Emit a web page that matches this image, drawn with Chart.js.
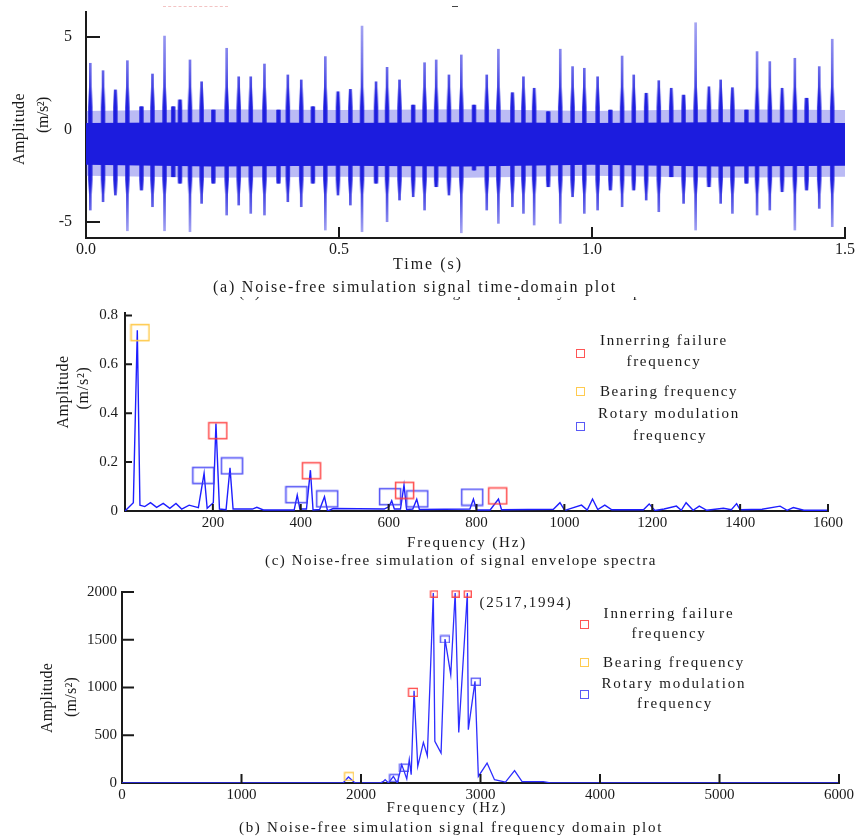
<!DOCTYPE html>
<html><head><meta charset="utf-8">
<script src="https://cdn.jsdelivr.net/npm/chart.js@4.4.1/dist/chart.umd.min.js"></script>
<style>
html,body{margin:0;padding:0;background:#fff;}
body{width:856px;height:836px;position:relative;overflow:hidden;font-family:'Liberation Serif','Times New Roman',serif;color:#1a1a1a;}
canvas{position:absolute;left:0;}
.t{position:absolute;white-space:nowrap;line-height:1;}
.sq{position:absolute;width:9px;height:9px;border:1.5px solid;box-sizing:border-box;}
</style></head><body>
<canvas id="cA" width="856" height="262" style="top:0px"></canvas>
<canvas id="cB" width="856" height="235" style="top:300px"></canvas>
<canvas id="cC" width="856" height="230" style="top:575px"></canvas>
<div style="position:absolute;left:163px;top:6px;width:65px;border-top:1px dashed #f3c4c4"></div>
<div style="position:absolute;left:452px;top:6px;width:6px;height:1px;background:#444"></div>
<script>
// ================= DATA =================
// (a) time-domain signal
const timeTicks = [0, 0.5, 1.0, 1.5];
const timeAmpTicks = [-5, 0, 5];
const impulseTime = [0.0085,0.0337,0.0581,0.0818,0.1096,0.1314,0.1552,0.1724,0.1857,0.2055,0.2285,0.2517,0.2780,0.3018,0.3256,0.3527,0.3804,0.3989,0.4254,0.4484,0.4730,0.4980,0.5225,0.5455,0.5732,0.5950,0.6196,0.6466,0.6691,0.6921,0.7173,0.7417,0.7668,0.7920,0.8150,0.8427,0.8645,0.8857,0.9135,0.9373,0.9616,0.9848,1.0111,1.0363,1.0595,1.0825,1.1071,1.1320,1.1566,1.1810,1.2048,1.2311,1.2543,1.2775,1.3052,1.3262,1.3514,1.3757,1.4009,1.4241,1.4491,1.4748];
const impulseMax = [3.58,3.18,2.14,3.72,1.23,3.0,5.05,1.23,1.6,3.76,2.58,1.05,4.39,2.85,2.85,3.54,1.05,2.95,2.68,1.23,3.94,2.04,2.17,5.59,2.58,3.36,2.68,1.32,3.61,3.76,2.95,4.03,1.32,2.95,4.34,1.99,2.85,2.23,0.96,4.34,3.4,3.31,2.85,1.05,3.97,2.95,1.96,2.64,2.23,1.86,5.77,2.31,2.68,2.26,1.05,4.21,3.67,2.23,3.85,1.69,3.4,4.88];
const impulseMin = [-4.35,-3.9,-3.54,-5.47,-3.27,-4.17,-5.47,-2.55,-2.9,-5.52,-3.99,-2.9,-4.62,-4.08,-4.53,-4.62,-2.9,-3.9,-4.17,-2.9,-5.43,-3.54,-4.08,-5.52,-2.9,-4.98,-3.81,-3.63,-4.35,-3.09,-3.54,-5.58,-2.19,-4.35,-5.07,-4.17,-4.53,-5.16,-3.09,-5.07,-3.63,-4.53,-4.35,-3.27,-4.17,-3.27,-3.81,-4.44,-2.55,-3.99,-5.43,-3.09,-3.99,-4.53,-2.9,-4.62,-4.35,-3.36,-5.43,-3.27,-4.26,-5.25];
const bandTime     = [0, 0.25, 0.5, 0.75, 1.0, 1.25, 1.5];
const bandCoreHigh = [0.35, 0.4, 0.35, 0.4, 0.35, 0.4, 0.35];
const bandCoreLow  = [-1.9, -2.0, -1.95, -2.0, -1.9, -2.0, -1.95];
const bandEdgeHigh = [1.0, 1.1, 1.05, 1.1, 1.0, 1.1, 1.05];
const bandEdgeLow  = [-2.5, -2.6, -2.55, -2.6, -2.5, -2.6, -2.55];

// (c) envelope spectrum
const envFreqTicks = [200, 400, 600, 800, 1000, 1200, 1400, 1600];
const envAmpTicks = [0, 0.2, 0.4, 0.6, 0.8];
const envFreq = [0,19,28,34,45,58,72,87,102,116,129,146,167,180,187,201,207,215,230,239,246,290,300,315,385,392,398,413,422,428,443,454,461,474,590,601,607,613,627,635,641,655,664,670,785,793,800,831,850,857,975,990,1001,1010,1039,1052,1064,1076,1092,1108,1180,1193,1206,1227,1255,1266,1277,1293,1307,1324,1362,1380,1392,1400,1450,1491,1507,1521,1545,1600];
const envAmp = [0,0.034,0.739,0.024,0.018,0.034,0.015,0.031,0.011,0.031,0.008,0.024,0.014,0.154,0.011,0.034,0.358,0.008,0.005,0.177,0.008,0.008,0.015,0.004,0.004,0.065,0.008,0.008,0.167,0.004,0.006,0.058,0.0,0.01,0.008,0.018,0.042,0.008,0.008,0.106,0.006,0.008,0.048,0.006,0.008,0.049,0.004,0.004,0.049,0.005,0.007,0.034,0.002,0.008,0.024,0.004,0.049,0.006,0.024,0.005,0.005,0.029,0.002,0.008,0.02,0.003,0.034,0.003,0.02,0.003,0.011,0.005,0.03,0.005,0.007,0.02,0.003,0.014,0.003,0.003];
const envInnerFreq = [211, 424, 636, 848];
const envInnerAmp = [0.329, 0.165, 0.085, 0.062];
const envBearingFreq = [34];
const envBearingAmp = [0.730];
const envRotaryFreq = [178, 243, 390, 460, 603, 665, 790];
const envRotaryAmp = [0.146, 0.185, 0.067, 0.050, 0.059, 0.050, 0.057];

// (b) frequency-domain spectrum
const specFreqTicks = [0, 1000, 2000, 3000, 4000, 5000, 6000];
const specAmpTicks = [0, 500, 1000, 1500, 2000];
const specFreq = [0,1850,1895,1951,2160,2188,2202,2230,2271,2304,2341,2361,2383,2404,2420,2444,2475,2522,2555,2605,2618,2670,2703,2751,2788,2818,2890,2898,2954,2982,3055,3117,3209,3285,3348,3525,3585,6000];
const specAmp = [0,0,63,0,0,17,35,0,70,0,191,122,42,244,87,965,174,425,286,1990,436,314,1508,1134,1990,530,1990,558,1064,70,209,35,10,130,14,15,0,0];
const specInnerFreq = [2433, 2609, 2788, 2890];
const specInnerAmp = [953, 1984, 1984, 1984];
const specBearingFreq = [1898];
const specBearingAmp = [71];
const specRotaryFreq = [2275, 2359, 2700, 2957];
const specRotaryAmp = [55, 165, 1508, 1065];

const legendLabels = [['Innerring failure', 'frequency'], ['Bearing frequency'], ['Rotary modulation', 'frequency']];

// ================= HELPERS =================
const FAMILY = "'Liberation Serif', 'Times New Roman', serif";
const INK = '#1a1a1a';
const RED = 'rgba(255,55,55,0.85)', YEL = 'rgba(255,200,70,0.95)', BLU = 'rgba(60,60,245,0.85)';
Chart.defaults.font.family = FAMILY;

const pts = (xs, ys) => xs.map((x, i) => ({x, y: ys[i]}));

function boxImg(w, h, color, lw) {
  const c = document.createElement('canvas');
  c.width = w + lw * 2; c.height = h + lw * 2;
  const g = c.getContext('2d');
  g.strokeStyle = color; g.lineWidth = lw;
  g.strokeRect(lw, lw, w, h);
  return c;
}

function axisX(min, max, ticks, fmt, h, size, pad) {
  return {type: 'linear', position: 'bottom', min, max, offset: false,
    grid: {display: false, drawTicks: false},
    border: {display: true, color: INK, width: 2},
    afterBuildTicks: s => { s.ticks = ticks.map(v => ({value: v})); },
    afterFit: s => { s.height = h; s.paddingLeft = 0; s.paddingRight = 0; },
    ticks: {autoSkip: false, maxRotation: 0, minRotation: 0, padding: pad, color: INK, font: {family: FAMILY, size}, callback: fmt}};
}
function axisY(min, max, ticks, fmt, w, size, pad) {
  return {type: 'linear', position: 'left', min, max,
    grid: {display: false, drawTicks: false},
    border: {display: true, color: INK, width: 2},
    afterBuildTicks: s => { s.ticks = ticks.map(v => ({value: v})); },
    afterFit: s => { s.width = w; s.paddingTop = 0; s.paddingBottom = 0; },
    ticks: {autoSkip: false, padding: pad, color: INK, font: {family: FAMILY, size}, callback: fmt}};
}

const innerTicks = {
  id: 'innerTicks',
  afterDraw(chart, args, o) {
    const ctx = chart.ctx, xs = chart.scales.x, ys = chart.scales.y;
    ctx.save();
    ctx.strokeStyle = INK; ctx.lineWidth = o.width || 2;
    ctx.beginPath();
    (o.x || []).forEach(v => { const p = xs.getPixelForValue(v); ctx.moveTo(p, ys.bottom); ctx.lineTo(p, ys.bottom - o.xLen); });
    (o.y || []).forEach(v => { const p = ys.getPixelForValue(v); ctx.moveTo(xs.left, p); ctx.lineTo(xs.left + o.yLen, p); });
    ctx.stroke();
    ctx.restore();
  }
};

function vGrad(chart, stops, fallback) {
  const y = chart.scales && chart.scales.y;
  if (!y || !chart.chartArea) return fallback;
  const top = y.getPixelForValue(y.max), bot = y.getPixelForValue(y.min);
  const g = chart.ctx.createLinearGradient(0, top, 0, bot);
  stops.forEach(([v, c]) => {
    const f = Math.min(1, Math.max(0, (y.getPixelForValue(v) - top) / (bot - top)));
    g.addColorStop(f, c);
  });
  return g;
}

const common = {responsive: false, animation: false, events: [],
  plugins: {legend: {display: false}, tooltip: {enabled: false}}};

// ================= (a) =================
const spikeData = impulseTime.map((t, i) => ({x: t, y: [impulseMin[i], impulseMax[i]]}));
const spikeStops = [[6.35,'rgba(85,85,230,0.45)'],[3.4,'rgba(50,50,225,0.7)'],[1.7,'rgba(28,28,222,0.95)'],[-3.0,'rgba(28,28,222,0.95)'],[-4.4,'rgba(50,50,225,0.7)'],[-5.86,'rgba(85,85,230,0.45)']];
const haloStops = [[6.35,'rgba(30,30,220,0)'],[2.3,'rgba(30,30,220,0)'],[1.2,'rgba(28,28,222,0.8)'],[-2.7,'rgba(28,28,222,0.8)'],[-3.5,'rgba(30,30,220,0)'],[-5.86,'rgba(30,30,220,0)']];
new Chart(document.getElementById('cA'), {
  type: 'bar',
  data: {datasets: [
    {type: 'bar', data: spikeData, barThickness: 2, grouped: false, borderWidth: 0, order: 1,
     backgroundColor: c => vGrad(c.chart, spikeStops, 'rgba(40,40,225,0.8)')},
    {type: 'bar', data: spikeData, barThickness: 4, grouped: false, borderWidth: 0, order: 2,
     backgroundColor: c => vGrad(c.chart, haloStops, 'rgba(40,40,225,0.3)')},
    {type: 'line', data: pts(bandTime, bandCoreHigh), fill: 3, backgroundColor: 'rgb(28,28,222)', borderWidth: 0, pointRadius: 0, order: 3},
    {type: 'line', data: pts(bandTime, bandCoreLow), fill: false, borderWidth: 0, pointRadius: 0, order: 3},
    {type: 'line', data: pts(bandTime, bandEdgeHigh), fill: 5, backgroundColor: 'rgba(45,45,225,0.32)', borderWidth: 0, pointRadius: 0, order: 4},
    {type: 'line', data: pts(bandTime, bandEdgeLow), fill: false, borderWidth: 0, pointRadius: 0, order: 4}
  ]},
  options: Object.assign({}, common, {
    layout: {padding: {left: 0, top: 12, right: 11, bottom: 0}},
    scales: {
      x: axisX(0, 1.5, timeTicks, v => Number(v).toFixed(1), 24, 16, 2),
      y: axisY(-5.86, 6.35, timeAmpTicks, v => String(v), 86, 16, 14)
    },
    plugins: Object.assign({}, common.plugins, {innerTicks: {x: timeTicks.filter(v => v > 0), y: timeAmpTicks.filter(v => v !== 0), xLen: 11, yLen: 14, width: 2}})
  }),
  plugins: [innerTicks]
});

// ================= (c) =================
new Chart(document.getElementById('cB'), {
  type: 'scatter',
  data: {datasets: [
    {data: pts(envFreq, envAmp), showLine: true, borderColor: 'rgb(30,30,255)', borderWidth: 1.4, pointRadius: 0, order: 4},
    {data: pts(envInnerFreq, envInnerAmp), pointStyle: boxImg(18, 16, RED, 1.6), pointRadius: 6, clip: false, order: 1},
    {data: pts(envBearingFreq, envBearingAmp), pointStyle: boxImg(18, 16, YEL, 1.6), pointRadius: 6, clip: false, order: 2},
    {data: pts(envRotaryFreq, envRotaryAmp), pointStyle: boxImg(21, 16, BLU, 1.6), pointRadius: 6, clip: false, order: 3}
  ]},
  options: Object.assign({}, common, {
    layout: {padding: {left: 0, top: 13, right: 28, bottom: 0}},
    scales: {
      x: axisX(0, 1600, envFreqTicks, v => String(v), 24, 15, 3),
      y: axisY(0, 0.81, envAmpTicks, v => (v === 0 ? '0' : Number(v).toFixed(1)), 125, 15, 7)
    },
    plugins: Object.assign({}, common.plugins, {innerTicks: {x: envFreqTicks, y: envAmpTicks.filter(v => v > 0), xLen: 7, yLen: 7, width: 2}})
  }),
  plugins: [innerTicks]
});

// ================= (b) =================
const redBig = boxImg(9, 8, RED, 1.4), redSmall = boxImg(7, 6, RED, 1.4);
new Chart(document.getElementById('cC'), {
  type: 'scatter',
  data: {datasets: [
    {data: pts(specFreq, specAmp), showLine: true, borderColor: 'rgb(45,45,255)', borderWidth: 1.3, pointRadius: 0, order: 4},
    {data: pts(specInnerFreq, specInnerAmp), pointStyle: c => (c.raw && c.raw.y > 1500 ? redSmall : redBig), pointRadius: 5, clip: false, order: 1},
    {data: pts(specBearingFreq, specBearingAmp), pointStyle: boxImg(9, 8, YEL, 1.4), pointRadius: 5, clip: false, order: 2},
    {data: pts(specRotaryFreq, specRotaryAmp), pointStyle: boxImg(9, 7, BLU, 1.4), pointRadius: 5, clip: false, order: 3}
  ]},
  options: Object.assign({}, common, {
    layout: {padding: {left: 0, top: 17, right: 17, bottom: 0}},
    scales: {
      x: axisX(0, 6000, specFreqTicks, v => String(v), 22, 15, 3),
      y: axisY(0, 2000, specAmpTicks, v => String(v), 122, 15, 5)
    },
    plugins: Object.assign({}, common.plugins, {innerTicks: {x: specFreqTicks.filter(v => v > 0), y: specAmpTicks.filter(v => v > 0), xLen: 9, yLen: 12, width: 2}})
  }),
  plugins: [innerTicks]
});

// ================= TEXT =================
const mctx = document.createElement('canvas').getContext('2d');
function addText(t, x, y, w, size, rot) {
  const d = document.createElement('div');
  d.className = 't';
  d.textContent = t;
  const font = size + "px " + FAMILY;
  mctx.font = font;
  const nat = mctx.measureText(t).width;
  d.style.font = font;
  d.style.lineHeight = '1';
  d.style.letterSpacing = ((w - nat) / t.length).toFixed(2) + 'px';
  d.style.left = x + 'px';
  d.style.top = y + 'px';
  d.style.transform = 'translate(-50%,-50%)' + (rot ? ' rotate(-90deg)' : '');
  document.body.appendChild(d);
}
function addSq(cx, cy, color) {
  const s = document.createElement('div');
  s.className = 'sq';
  s.style.left = (cx - 4.5) + 'px'; s.style.top = (cy - 4.5) + 'px';
  s.style.borderColor = color;
  document.body.appendChild(s);
}
// (a)
addText('Amplitude', 19, 129, 72, 16, true);
addText('(m/s\u00B2)', 43, 115, 36, 16, true);
addText('Time (s)', 428, 264, 70, 16);
addText('(a) Noise-free simulation signal time-domain plot', 415, 287, 404, 16);
// (c)
addText('Amplitude', 63, 392, 73, 16, true);
addText('(m/s\u00B2)', 83, 388, 43, 16, true);
addText('Frequency (Hz)', 467, 542, 120, 15);
addText('(c) Noise-free simulation of signal envelope spectra', 461, 560, 392, 15);
addText(legendLabels[0][0], 664, 340, 128, 15);
addText(legendLabels[0][1], 664, 361, 75, 15);
addText(legendLabels[1][0], 669, 391, 138, 15);
addText(legendLabels[2][0], 669, 413, 142, 15);
addText(legendLabels[2][1], 670, 435, 74, 15);
addSq(580, 353, RED); addSq(580, 391, YEL); addSq(580, 426, BLU);
// (b)
addText('Amplitude', 47, 698, 70, 16, true);
addText('(m/s\u00B2)', 71, 697, 40, 16, true);
addText('Frequency (Hz)', 447, 807, 121, 15);
addText('(b) Noise-free simulation signal frequency domain plot', 451, 827, 424, 15);
addText('(2517,1994)', 526, 602, 93, 15);
addText(legendLabels[0][0], 669, 613, 131, 15);
addText(legendLabels[0][1], 669, 633, 75, 15);
addText(legendLabels[1][0], 674, 662, 142, 15);
addText(legendLabels[2][0], 674, 683, 145, 15);
addText(legendLabels[2][1], 675, 703, 76, 15);
addSq(584, 624, RED); addSq(584, 662, YEL); addSq(584, 694, BLU);
// clipped caption remnant at the top of panel (c): only descenders visible
(function () {
  const wrap = document.createElement('div');
  wrap.style.cssText = 'position:absolute;left:0;top:297px;width:856px;height:5px;overflow:hidden';
  const t = '(b) Noise-free simulation signal frequency domain plot';
  const d = document.createElement('div');
  d.className = 't';
  d.textContent = t;
  const font = "15px " + FAMILY;
  mctx.font = font;
  d.style.font = font; d.style.lineHeight = '1';
  d.style.letterSpacing = ((424 - mctx.measureText(t).width) / t.length).toFixed(2) + 'px';
  d.style.left = '239px'; d.style.top = '-12.5px';
  wrap.appendChild(d);
  document.body.appendChild(wrap);
})();
</script>
</body></html>
